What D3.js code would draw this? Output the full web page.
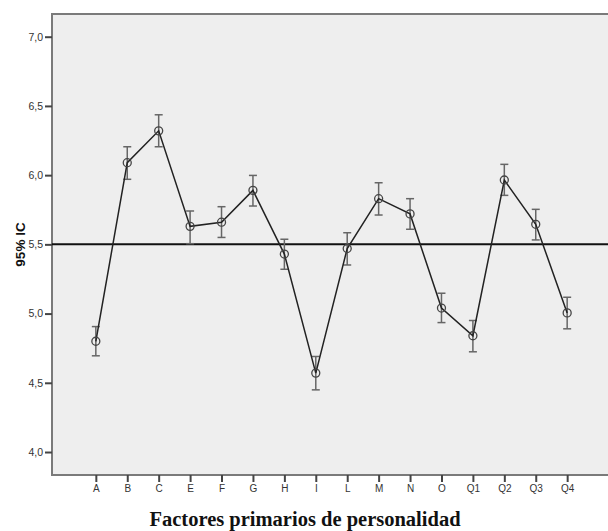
<!DOCTYPE html>
<html>
<head>
<meta charset="utf-8">
<title>Factores primarios</title>
<script src="https://cdn.jsdelivr.net/npm/d3@7"></script>
<style>
body { margin: 0; background: #fff; }
svg text { font-family: Arial, "Liberation Sans", sans-serif; }
</style>
</head>
<body>
<div id="chart"></div>
<script>
// data
var factors = ["A", "B", "C", "E", "F", "G", "H", "I", "L", "M", "N", "O", "Q1", "Q2", "Q3", "Q4"];
var means   = [4.80, 6.09, 6.32, 5.63, 5.66, 5.89, 5.43, 4.57, 5.47, 5.83, 5.72, 5.04, 4.84, 5.965, 5.645, 5.005];
var ciLow   = [4.695, 5.97, 6.205, 5.505, 5.55, 5.777, 5.32, 4.449, 5.351, 5.712, 5.609, 4.935, 4.724, 5.854, 5.532, 4.89];
var ciHigh  = [4.906, 6.205, 6.436, 5.741, 5.772, 5.998, 5.537, 4.69, 5.584, 5.945, 5.83, 5.147, 4.95, 6.078, 5.753, 5.118];
var yTicks  = [4.0, 4.5, 5.0, 5.5, 6.0, 6.5, 7.0];
var refValue = 5.5;

var svgWidth = 608, svgHeight = 531;
var plotLeft = 52, plotTop = 14, plotRight = 611, plotBottom = 475;

var svg = d3.select("#chart").append("svg")
    .attr("width", svgWidth)
    .attr("height", svgHeight);

var x = d3.scalePoint().domain(factors).range([plotLeft, plotRight]).padding(1.395);
var y = d3.scaleLinear().domain([3.834, 7.164]).range([plotBottom, plotTop]);

// plot background + frame
svg.append("rect")
    .attr("x", plotLeft).attr("y", plotTop)
    .attr("width", plotRight - plotLeft).attr("height", plotBottom - plotTop)
    .attr("fill", "#eeeeee")
    .attr("stroke", "#7a7a7a")
    .attr("stroke-width", 2);

var fmt = function(d) { return d3.format(".1f")(d).replace(".", ","); };

var yAxis = svg.append("g")
    .attr("transform", "translate(" + plotLeft + ",0)")
    .call(d3.axisLeft(y).tickValues(yTicks).tickFormat(fmt).tickSize(7).tickPadding(2));
yAxis.select(".domain").remove();
yAxis.selectAll(".tick line").attr("stroke", "#444").attr("stroke-width", 2);
yAxis.selectAll("text").attr("font-size", "10.5px").attr("fill", "#333");

var xAxis = svg.append("g")
    .attr("transform", "translate(0," + plotBottom + ")")
    .call(d3.axisBottom(x).tickSize(7).tickPadding(3));
xAxis.select(".domain").remove();
xAxis.selectAll(".tick line").attr("stroke", "#444").attr("stroke-width", 2);
xAxis.selectAll("text").attr("font-size", "10px").attr("fill", "#333");

// reference line
svg.append("line")
    .attr("x1", plotLeft).attr("x2", plotRight)
    .attr("y1", y(refValue)).attr("y2", y(refValue))
    .attr("stroke", "#111")
    .attr("stroke-width", 2);

// error bars
var bars = svg.selectAll(".err")
    .data(factors)
    .enter().append("g")
    .attr("class", "err")
    .attr("stroke", "#666")
    .attr("stroke-width", 1.5);

bars.append("line")
    .attr("x1", function(d) { return x(d); })
    .attr("x2", function(d) { return x(d); })
    .attr("y1", function(d, i) { return y(ciLow[i]); })
    .attr("y2", function(d, i) { return y(ciHigh[i]); });
bars.append("line")
    .attr("x1", function(d) { return x(d) - 4; })
    .attr("x2", function(d) { return x(d) + 4; })
    .attr("y1", function(d, i) { return y(ciLow[i]); })
    .attr("y2", function(d, i) { return y(ciLow[i]); });
bars.append("line")
    .attr("x1", function(d) { return x(d) - 4; })
    .attr("x2", function(d) { return x(d) + 4; })
    .attr("y1", function(d, i) { return y(ciHigh[i]); })
    .attr("y2", function(d, i) { return y(ciHigh[i]); });

// mean line
var line = d3.line()
    .x(function(d, i) { return x(factors[i]); })
    .y(function(d) { return y(d); });

svg.append("path")
    .datum(means)
    .attr("d", line)
    .attr("fill", "none")
    .attr("stroke", "#222")
    .attr("stroke-width", 1.5);

svg.selectAll(".pt")
    .data(means)
    .enter().append("circle")
    .attr("class", "pt")
    .attr("cx", function(d, i) { return x(factors[i]); })
    .attr("cy", function(d) { return y(d); })
    .attr("r", 4)
    .attr("fill", "none")
    .attr("stroke", "#444")
    .attr("stroke-width", 1.3);

// axis titles
svg.append("text")
    .attr("transform", "translate(24.5," + ((plotTop + plotBottom) / 2) + ") rotate(-90)")
    .attr("text-anchor", "middle")
    .attr("font-size", "13.5px")
    .attr("font-weight", "bold")
    .attr("fill", "#111")
    .text("95% IC");

svg.append("text")
    .attr("x", 305)
    .attr("y", 526)
    .attr("text-anchor", "middle")
    .style("font-family", "'Liberation Serif', 'DejaVu Serif', serif")
    .attr("font-size", "20.5px")
    .attr("font-weight", "bold")
    .attr("fill", "#111")
    .text("Factores primarios de personalidad");
</script>
</body>
</html>
